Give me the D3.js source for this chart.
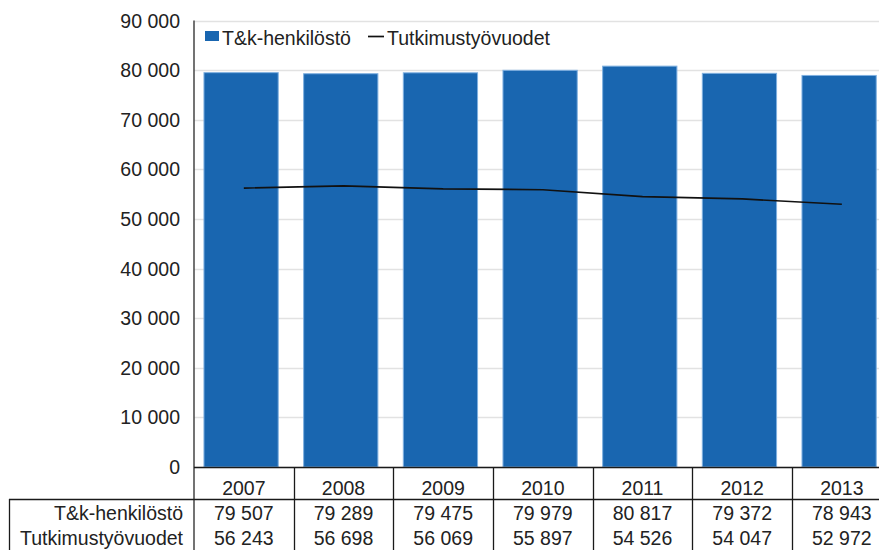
<!DOCTYPE html>
<html>
<head>
<meta charset="utf-8">
<script src="https://cdn.jsdelivr.net/npm/d3@7"></script>
<style>
  body { margin: 0; background: #fff; }
  svg text { font-family: "Liberation Sans", Arial, sans-serif; font-size: 19.5px; fill: #222; }
</style>
</head>
<body>
<div id="chart"></div>
<script>
// Values
let years = ["2007", "2008", "2009", "2010", "2011", "2012", "2013"];
let henkilosto = [79507, 79289, 79475, 79979, 80817, 79372, 78943];
let tyovuodet = [56243, 56698, 56069, 55897, 54526, 54047, 52972];
let yTicks = [0, 10000, 20000, 30000, 40000, 50000, 60000, 70000, 80000, 90000];
let seriesNames = ["T&k-henkilöstö", "Tutkimustyövuodet"];

let W = 879, H = 550;
let barColor = "#1966b0";

// Finnish style numbers: space as thousands separator
let fi = d3.formatLocale({decimal: ",", thousands: " ", grouping: [3], currency: ["", " €"]});
let fmt = fi.format(",");

let svg = d3.select("#chart").append("svg")
    .attr("width", W)
    .attr("height", H);

let plotLeft = 194, plotTop = 20.6, plotBottom = 467;
let step = 99.67;

let xScale = d3.scaleBand()
    .domain(years)
    .range([plotLeft, plotLeft + step * years.length])
    .padding(0);

let yScale = d3.scaleLinear()
    .domain([0, 90000])
    .range([plotBottom, plotTop]);

// gridlines
svg.append("g")
    .selectAll("line")
    .data(yTicks)
    .enter().append("line")
    .attr("x1", plotLeft)
    .attr("x2", W)
    .attr("y1", d => Math.round(yScale(d)) + 0.5)
    .attr("y2", d => Math.round(yScale(d)) + 0.5)
    .style("stroke", "#e2e2e2")
    .style("stroke-width", 1.5);

// y tick labels
svg.append("g")
    .selectAll("text")
    .data(yTicks)
    .enter().append("text")
    .attr("x", 180)
    .attr("y", d => yScale(d))
    .attr("dy", "0.36em")
    .attr("text-anchor", "end")
    .text(d => fmt(d));

// bars
let bw = xScale.bandwidth();
svg.append("g")
    .selectAll("rect")
    .data(years)
    .enter().append("rect")
    .attr("x", d => xScale(d) + bw * 0.1)
    .attr("width", bw * 0.745)
    .attr("y", (d, i) => yScale(henkilosto[i]))
    .attr("height", (d, i) => plotBottom - yScale(henkilosto[i]))
    .style("fill", barColor)
    .style("stroke", "#7fb0e0")
    .style("stroke-width", 1);

// line series
let line = d3.line()
    .x((d, i) => xScale(years[i]) + bw / 2)
    .y(d => yScale(d));

svg.append("path")
    .datum(tyovuodet)
    .attr("d", line)
    .style("fill", "none")
    .style("stroke", "#111")
    .style("stroke-width", 1.7);

// y axis line
svg.append("line")
    .attr("x1", plotLeft).attr("x2", plotLeft)
    .attr("y1", plotTop).attr("y2", H)
    .style("stroke", "#444")
    .style("stroke-width", 1.5);

// legend
svg.append("rect")
    .attr("x", 205).attr("y", 31)
    .attr("width", 14).attr("height", 10)
    .style("fill", barColor);
svg.append("text")
    .attr("x", 222).attr("y", 45)
    .text(seriesNames[0]);
svg.append("line")
    .attr("x1", 368).attr("x2", 384)
    .attr("y1", 36.5).attr("y2", 36.5)
    .style("stroke", "#111")
    .style("stroke-width", 1.7);
svg.append("text")
    .attr("x", 387).attr("y", 45)
    .text(seriesNames[1]);

// data table
let tableLine = "#1a1a1a";
let rowY = [495, 519.5, 544.5];

svg.append("line")
    .attr("x1", plotLeft).attr("x2", W)
    .attr("y1", plotBottom + 0.5).attr("y2", plotBottom + 0.5)
    .style("stroke", tableLine).style("stroke-width", 1.3);
svg.append("line")
    .attr("x1", 9).attr("x2", W)
    .attr("y1", 499.5).attr("y2", 499.5)
    .style("stroke", tableLine).style("stroke-width", 1.3);
svg.append("line")
    .attr("x1", 9.5).attr("x2", 9.5)
    .attr("y1", 499).attr("y2", H)
    .style("stroke", tableLine).style("stroke-width", 1.3);

svg.append("g")
    .selectAll("line")
    .data(years.slice(1))
    .enter().append("line")
    .attr("x1", d => Math.round(xScale(d)) + 0.5)
    .attr("x2", d => Math.round(xScale(d)) + 0.5)
    .attr("y1", plotBottom)
    .attr("y2", H)
    .style("stroke", tableLine).style("stroke-width", 1.3);

svg.append("g")
    .selectAll("text")
    .data(years)
    .enter().append("text")
    .attr("x", d => xScale(d) + bw / 2)
    .attr("y", rowY[0])
    .attr("text-anchor", "middle")
    .text(d => d);

svg.append("g")
    .selectAll("text")
    .data(henkilosto)
    .enter().append("text")
    .attr("x", (d, i) => xScale(years[i]) + bw / 2)
    .attr("y", rowY[1])
    .attr("text-anchor", "middle")
    .text(d => fmt(d));

svg.append("g")
    .selectAll("text")
    .data(tyovuodet)
    .enter().append("text")
    .attr("x", (d, i) => xScale(years[i]) + bw / 2)
    .attr("y", rowY[2])
    .attr("text-anchor", "middle")
    .text(d => fmt(d));

svg.append("text")
    .attr("x", 183).attr("y", rowY[1])
    .attr("text-anchor", "end")
    .text(seriesNames[0]);
svg.append("text")
    .attr("x", 183).attr("y", rowY[2])
    .attr("text-anchor", "end")
    .text(seriesNames[1]);
</script>
</body>
</html>
